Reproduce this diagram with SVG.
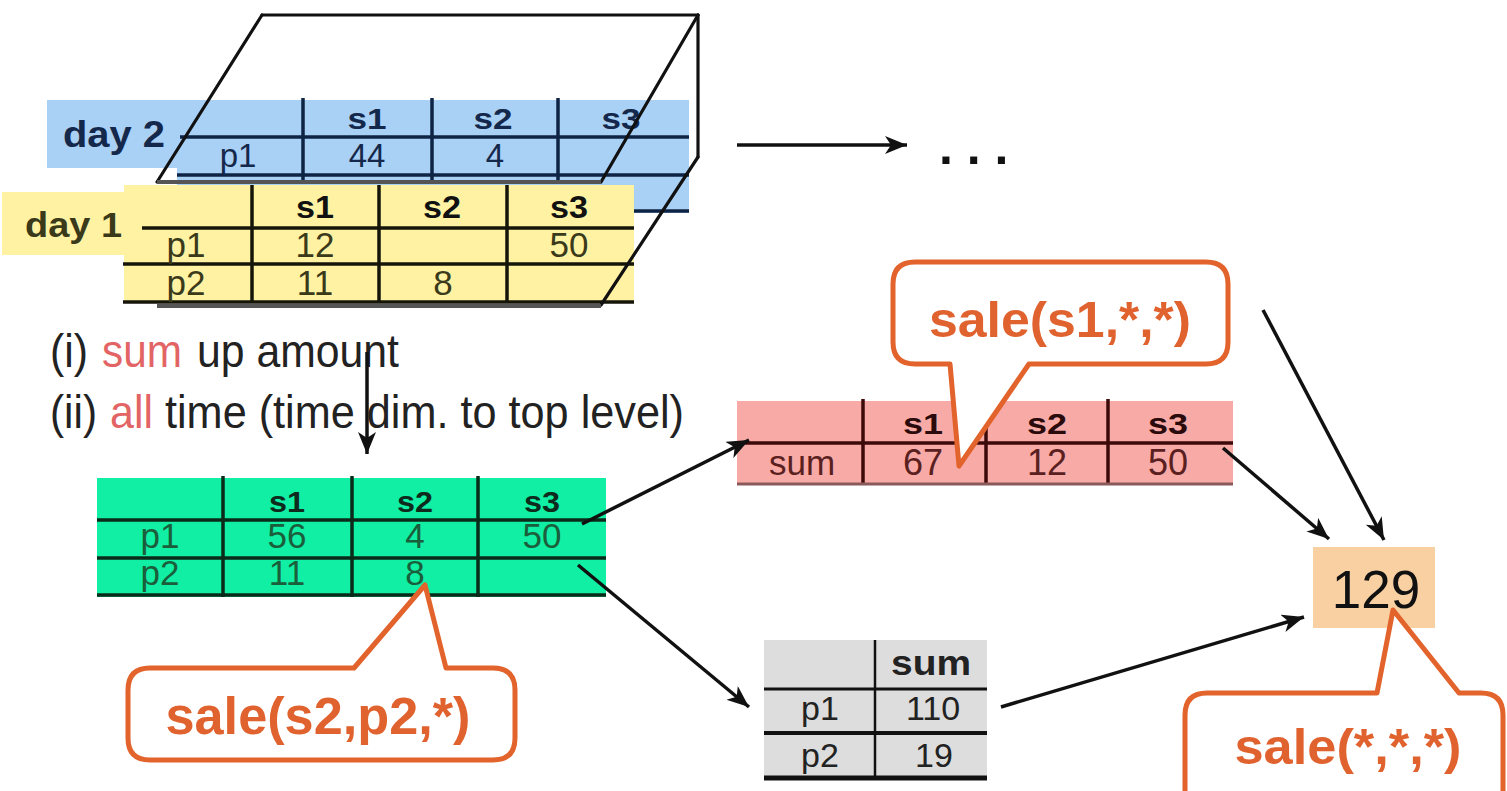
<svg xmlns="http://www.w3.org/2000/svg" width="1507" height="791" viewBox="0 0 1507 791">
  <style>
    text { font-family: "Liberation Sans", Arial, sans-serif; }
    .hd { font-weight: 700; text-anchor: middle; }
    .v { text-anchor: middle; }
    .lbl { font-weight: 700; }
    .cube { stroke: #111; stroke-width: 3.2; fill: none; stroke-linecap: round; }
    .cubeb { stroke: #555; stroke-width: 4; fill: none; }
    .conn { stroke: #111; stroke-width: 3.5; fill: none; marker-end: url(#arrow); }
    .callout { fill: #fff; stroke: #e2632b; stroke-width: 5; stroke-linejoin: round; }
    .ctext { fill: #e0622e; font-weight: 700; text-anchor: middle; }
    .note { fill: #222; font-size: 47px; }
    .red { fill: #e26464; }
  </style>
  <defs>
    <marker id="arrow" markerUnits="userSpaceOnUse" markerWidth="24" markerHeight="20" refX="22" refY="9" orient="auto">
      <path d="M0,0 L22,9 L0,18 L6,9 Z" fill="#111"/>
    </marker>
  </defs>

  <rect width="1507" height="791" fill="#fff"/>

  <!-- day 2 slice (back) -->
  <g id="day2">
    <rect x="47" y="100" width="132" height="68" fill="#a9d0f5"/>
    <rect x="177" y="100" width="512" height="113" fill="#a9d0f5"/>
    <g stroke="#0f2444" stroke-width="3.5">
      <line x1="180" y1="137" x2="689" y2="137"/>
      <line x1="177" y1="175" x2="689" y2="175"/>
      <line x1="177" y1="211" x2="689" y2="211"/>
      <line x1="303" y1="98" x2="303" y2="183"/>
      <line x1="432" y1="98" x2="432" y2="183"/>
      <line x1="558" y1="98" x2="558" y2="183"/>
    </g>
    <text class="lbl" x="63" y="147" font-size="37" textLength="102" lengthAdjust="spacingAndGlyphs" fill="#14284b">day 2</text>
    <g fill="#14284b">
      <text class="hd" x="367" y="129" font-size="29" textLength="39" lengthAdjust="spacingAndGlyphs">s1</text>
      <text class="hd" x="493" y="129" font-size="29" textLength="39" lengthAdjust="spacingAndGlyphs">s2</text>
      <text class="hd" x="621" y="129" font-size="29" textLength="39" lengthAdjust="spacingAndGlyphs">s3</text>
      <text class="v" x="238" y="167" font-size="33">p1</text>
      <text class="v" x="367" y="167" font-size="33">44</text>
      <text class="v" x="495" y="167" font-size="33">4</text>
    </g>
  </g>

  <!-- cube: back face edges -->
  <g id="cube-back">
    <line class="cube" x1="262" y1="15" x2="698" y2="15"/>
    <line class="cube" x1="262" y1="15" x2="157" y2="182"/>
    <line class="cube" x1="698" y1="15" x2="601" y2="182"/>
    <line class="cubeb" x1="157" y1="182" x2="601" y2="182"/>
  </g>

  <!-- day 1 slice (front) -->
  <g id="day1">
    <rect x="2" y="192" width="142" height="63" fill="#fff3a3"/>
    <rect x="124" y="185" width="510" height="117" fill="#fff3a3"/>
    <g stroke="#15150a" stroke-width="3.5">
      <line x1="142" y1="228" x2="634" y2="228"/>
      <line x1="123" y1="264" x2="634" y2="264"/>
      <line x1="123" y1="302" x2="634" y2="302"/>
      <line x1="252" y1="185" x2="252" y2="303"/>
      <line x1="379" y1="185" x2="379" y2="303"/>
      <line x1="507" y1="185" x2="507" y2="303"/>
    </g>
    <text class="lbl" x="25" y="237" font-size="35" textLength="97" lengthAdjust="spacingAndGlyphs" fill="#3a3a1a">day 1</text>
    <g fill="#3a3a1a">
      <text class="hd" x="315" y="218" font-size="31" textLength="38" lengthAdjust="spacingAndGlyphs" fill="#111">s1</text>
      <text class="hd" x="442" y="218" font-size="31" textLength="38" lengthAdjust="spacingAndGlyphs" fill="#111">s2</text>
      <text class="hd" x="569" y="218" font-size="31" textLength="38" lengthAdjust="spacingAndGlyphs" fill="#111">s3</text>
      <text class="v" x="186" y="257" font-size="35">p1</text>
      <text class="v" x="315" y="257" font-size="35">12</text>
      <text class="v" x="569" y="257" font-size="35">50</text>
      <text class="v" x="186" y="295" font-size="35">p2</text>
      <text class="v" x="315" y="295" font-size="35">11</text>
      <text class="v" x="443" y="295" font-size="35">8</text>
    </g>
  </g>

  <!-- cube: front face edges -->
  <g id="cube-front">
    <line class="cube" x1="698" y1="15" x2="698" y2="157"/>
    <line class="cube" x1="698" y1="157" x2="601" y2="305"/>
    <line class="cubeb" x1="157" y1="306" x2="601" y2="306"/>
  </g>

  <!-- notes: each run placed on its own -->
  <g id="notes">
    <text class="note" x="50" y="367" textLength="38" lengthAdjust="spacingAndGlyphs">(i)</text>
    <text class="note red" x="102" y="367" textLength="80" lengthAdjust="spacingAndGlyphs">sum</text>
    <text class="note" x="197" y="367" textLength="202" lengthAdjust="spacingAndGlyphs">up amount</text>
    <text class="note" x="50" y="428" textLength="47" lengthAdjust="spacingAndGlyphs">(ii)</text>
    <text class="note red" x="110" y="428" textLength="43" lengthAdjust="spacingAndGlyphs">all</text>
    <text class="note" x="165" y="428" textLength="519" lengthAdjust="spacingAndGlyphs">time (time dim. to top level)</text>
  </g>

  <!-- aggregated over time -->
  <g id="by-time">
    <rect x="97" y="478" width="509" height="119" fill="#10efa3"/>
    <g stroke="#0a2a1a" stroke-width="3.5">
      <line x1="97" y1="520" x2="606" y2="520"/>
      <line x1="97" y1="558" x2="606" y2="558"/>
      <line x1="97" y1="595" x2="606" y2="595"/>
      <line x1="223" y1="476" x2="223" y2="597"/>
      <line x1="352" y1="476" x2="352" y2="597"/>
      <line x1="478" y1="476" x2="478" y2="597"/>
    </g>
    <g fill="#1b5e3b">
      <text class="hd" x="287" y="512" font-size="30" textLength="36" lengthAdjust="spacingAndGlyphs" fill="#0d2a1c">s1</text>
      <text class="hd" x="415" y="512" font-size="30" textLength="36" lengthAdjust="spacingAndGlyphs" fill="#0d2a1c">s2</text>
      <text class="hd" x="542" y="512" font-size="30" textLength="36" lengthAdjust="spacingAndGlyphs" fill="#0d2a1c">s3</text>
      <text class="v" x="160" y="548" font-size="35">p1</text>
      <text class="v" x="287" y="548" font-size="35">56</text>
      <text class="v" x="415" y="548" font-size="35">4</text>
      <text class="v" x="542" y="548" font-size="35">50</text>
      <text class="v" x="160" y="585" font-size="35">p2</text>
      <text class="v" x="287" y="585" font-size="35">11</text>
      <text class="v" x="415" y="585" font-size="35">8</text>
    </g>
  </g>

  <!-- totals per store -->
  <g id="by-store">
    <rect x="737" y="401" width="496" height="84" fill="#f8aaa6"/>
    <g stroke="#3d0a0a" stroke-width="3.5">
      <line x1="737" y1="443" x2="1233" y2="443"/>
      <line x1="863" y1="399" x2="863" y2="484"/>
      <line x1="986" y1="399" x2="986" y2="484"/>
      <line x1="1108" y1="399" x2="1108" y2="484"/>
    </g>
    <line x1="737" y1="484" x2="1233" y2="484" stroke="#8a5a5a" stroke-width="3"/>
    <g fill="#5a2020">
      <text class="hd" x="923" y="434" font-size="30" textLength="40" lengthAdjust="spacingAndGlyphs" fill="#2a0a0a">s1</text>
      <text class="hd" x="1047" y="434" font-size="30" textLength="40" lengthAdjust="spacingAndGlyphs" fill="#2a0a0a">s2</text>
      <text class="hd" x="1168" y="434" font-size="30" textLength="40" lengthAdjust="spacingAndGlyphs" fill="#2a0a0a">s3</text>
      <text class="v" x="802" y="475" font-size="35">sum</text>
      <text class="v" x="923" y="475" font-size="36">67</text>
      <text class="v" x="1047" y="475" font-size="36">12</text>
      <text class="v" x="1168" y="475" font-size="36">50</text>
    </g>
  </g>

  <!-- totals per product -->
  <g id="by-product">
    <rect x="764" y="640" width="223" height="139" fill="#dddddd"/>
    <g stroke="#111">
      <line x1="764" y1="689" x2="987" y2="689" stroke-width="3"/>
      <line x1="764" y1="733" x2="987" y2="733" stroke-width="4"/>
      <line x1="764" y1="778" x2="987" y2="778" stroke-width="5"/>
      <line x1="875" y1="640" x2="875" y2="780" stroke-width="2.5"/>
    </g>
    <g fill="#222">
      <text class="hd" x="931" y="675" font-size="35" textLength="80" lengthAdjust="spacingAndGlyphs">sum</text>
      <text class="v" x="820" y="720" font-size="34">p1</text>
      <text class="v" x="933" y="720" font-size="34">110</text>
      <text class="v" x="820" y="767" font-size="34">p2</text>
      <text class="v" x="934" y="767" font-size="34">19</text>
    </g>
  </g>

  <!-- grand total -->
  <g id="total">
    <rect x="1313" y="547" width="122" height="81" fill="#f9d0a2"/>
    <text class="v" x="1376" y="608" font-size="53" fill="#111">129</text>
  </g>

  <!-- further slices -->
  <g id="more">
    <text x="939" y="164" font-size="50" font-weight="700" fill="#111">. . .</text>
  </g>

  <!-- connectors -->
  <g id="connectors">
    <line class="conn" x1="737" y1="145" x2="907" y2="145"/>
    <line class="conn" x1="367" y1="352" x2="367" y2="454"/>
    <line class="conn" x1="582" y1="524" x2="749" y2="440"/>
    <line class="conn" x1="578" y1="565" x2="749" y2="707"/>
    <line class="conn" x1="1223" y1="448" x2="1329" y2="539"/>
    <line class="conn" x1="1263" y1="310" x2="1384" y2="540"/>
    <line class="conn" x1="1001" y1="707" x2="1304" y2="617"/>
  </g>

  <!-- callouts -->
  <g id="callout-s1">
    <path class="callout" d="M915 262 H1206 Q1228 262 1228 284 V342 Q1228 364 1206 364 H1029 L959 466 L950 364 H915 Q893 364 893 342 V284 Q893 262 915 262 Z"/>
    <text class="ctext" x="1060" y="337" font-size="50" textLength="262" lengthAdjust="spacingAndGlyphs">sale(s1,*,*)</text>
  </g>
  <g id="callout-s2p2">
    <path class="callout" d="M150 668 H354 L425 585 L446 668 H493 Q515 668 515 690 V738 Q515 760 493 760 H150 Q128 760 128 738 V690 Q128 668 150 668 Z"/>
    <text class="ctext" x="318" y="734" font-size="51" textLength="305" lengthAdjust="spacingAndGlyphs">sale(s2,p2,*)</text>
  </g>
  <g id="callout-all">
    <path class="callout" d="M1207 693 H1377 L1393 610 L1459 693 H1481 Q1503 693 1503 715 V820 H1185 V715 Q1185 693 1207 693 Z"/>
    <text class="ctext" x="1348" y="764" font-size="50" textLength="227" lengthAdjust="spacingAndGlyphs">sale(*,*,*)</text>
  </g>
</svg>
